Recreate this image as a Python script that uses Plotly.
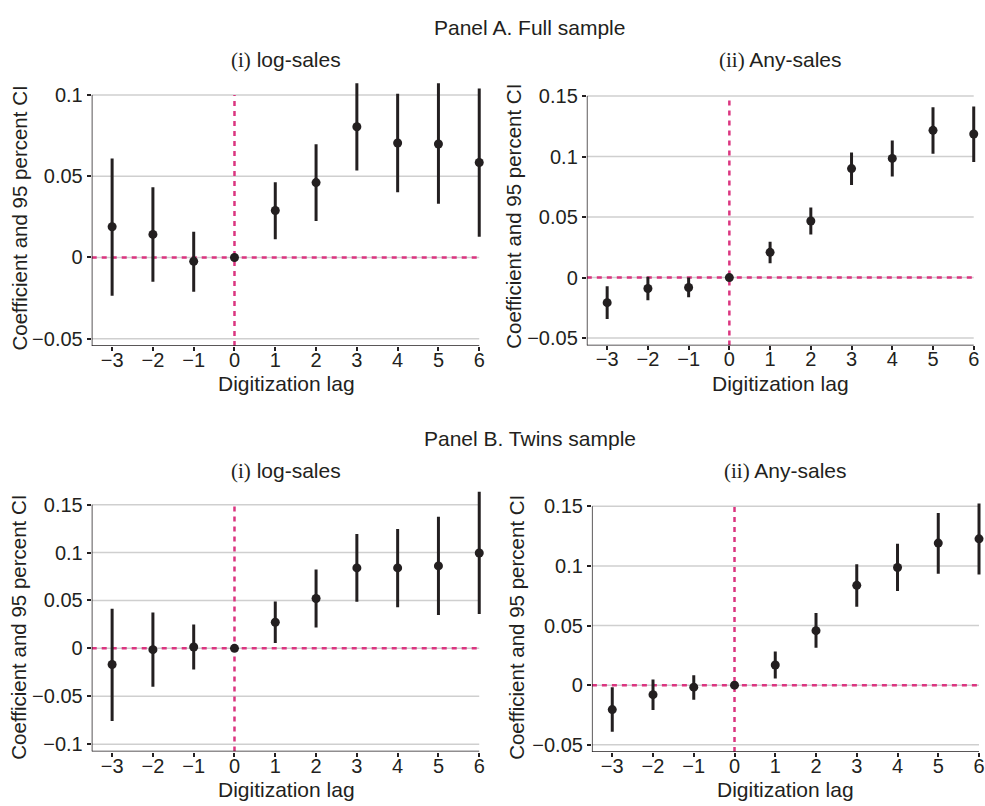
import plotly.graph_objects as go

W, H = 985, 806

lags = [-3, -2, -1, 0, 1, 2, 3, 4, 5, 6]
x_tick_text = ["\u22123", "\u22122", "\u22121", "0", "1", "2", "3", "4", "5", "6"]

# Panel A (i) log-sales
a1_coef = [0.0189, 0.0142, -0.0024, 0.0, 0.0289, 0.0461, 0.0805, 0.0705, 0.0699, 0.0585]
a1_lo = [-0.0236, -0.0150, -0.0211, 0.0, 0.0112, 0.0224, 0.0535, 0.0402, 0.0331, 0.0128]
a1_hi = [0.0610, 0.0433, 0.0159, 0.0, 0.0463, 0.0697, 0.1073, 0.1008, 0.1073, 0.1040]
# Panel A (ii) Any-sales
a2_coef = [-0.0207, -0.0090, -0.0082, 0.0, 0.0209, 0.0468, 0.0901, 0.0985, 0.1217, 0.1187]
a2_lo = [-0.0343, -0.0188, -0.0163, 0.0, 0.0119, 0.0356, 0.0765, 0.0836, 0.1024, 0.0956]
a2_hi = [-0.0071, 0.0008, 0.0000, 0.0, 0.0297, 0.0580, 0.1034, 0.1132, 0.1408, 0.1413]
# Panel B (i) log-sales
b1_coef = [-0.0169, -0.0014, 0.0014, 0.0, 0.0272, 0.0520, 0.0840, 0.0840, 0.0861, 0.0995]
b1_lo = [-0.0758, -0.0400, -0.0220, 0.0, 0.0055, 0.0217, 0.0486, 0.0430, 0.0348, 0.0358]
b1_hi = [0.0413, 0.0375, 0.0248, 0.0, 0.0489, 0.0823, 0.1195, 0.1247, 0.1374, 0.1636]
# Panel B (ii) Any-sales
b2_coef = [-0.0205, -0.0080, -0.0017, 0.0, 0.0169, 0.0457, 0.0837, 0.0986, 0.1191, 0.1227]
b2_lo = [-0.0390, -0.0208, -0.0122, 0.0, 0.0055, 0.0313, 0.0657, 0.0790, 0.0935, 0.0928]
b2_hi = [-0.0017, 0.0047, 0.0083, 0.0, 0.0283, 0.0604, 0.1014, 0.1186, 0.1443, 0.1524]

a1_ticks = [-0.05, 0, 0.05, 0.1]
a1_tick_text = ["\u22120.05", "0", "0.05", "0.1"]
a2_ticks = [-0.05, 0, 0.05, 0.1, 0.15]
a2_tick_text = ["\u22120.05", "0", "0.05", "0.1", "0.15"]
b1_ticks = [-0.1, -0.05, 0, 0.05, 0.1, 0.15]
b1_tick_text = ["\u22120.1", "\u22120.05", "0", "0.05", "0.1", "0.15"]
b2_ticks = [-0.05, 0, 0.05, 0.1, 0.15]
b2_tick_text = ["\u22120.05", "0", "0.05", "0.1", "0.15"]

panel_titles = ["Panel A. Full sample", "Panel B. Twins sample"]
sub_titles = [("(i)", "log-sales"), ("(ii)", "Any-sales"), ("(i)", "log-sales"), ("(ii)", "Any-sales")]
y_title = "Coefficient and 95 percent CI"
x_title = "Digitization lag"

INK = "#231f20"
PINK = "#db3580"
GRID = "#cfcfcf"
FONT = "Liberation Sans, Arial, sans-serif"
FS_TICK = 20
FS_TITLE = 21
FS_YTITLE = 20.5

X_MIN, X_MAX = -3.5, 6

def px_x(p):
    return p / W

def px_y(p):
    return 1 - p / H

# panel geometry: pixel of x=X_MIN / x=X_MAX, y-axis bottom value/pixel, top tick value/pixel,
# extra headroom above the top tick (for CIs that overshoot)
panels = [
    dict(coef=a1_coef, lo=a1_lo, hi=a1_hi, ticks=a1_ticks, tt=a1_tick_text,
         xpx=(92, 480.7), ybot=(-0.0545, 345.4), ytop=(0.1, 92), yext=0.112),
    dict(coef=a2_coef, lo=a2_lo, hi=a2_hi, ticks=a2_ticks, tt=a2_tick_text,
         xpx=(588.6, 976.7), ybot=(-0.056, 344.8), ytop=(0.15, 93), yext=0.156),
    dict(coef=b1_coef, lo=b1_lo, hi=b1_hi, ticks=b1_ticks, tt=b1_tick_text,
         xpx=(92, 480.7), ybot=(-0.1077, 755), ytop=(0.15, 505.7), yext=0.168),
    dict(coef=b2_coef, lo=b2_lo, hi=b2_hi, ticks=b2_ticks, tt=b2_tick_text,
         xpx=(593.7, 982), ybot=(-0.056, 755.4), ytop=(0.15, 507.3), yext=0.156),
]

fig = go.Figure()
layout = dict(
    width=W, height=H, margin=dict(l=0, r=0, t=0, b=0),
    paper_bgcolor="white", plot_bgcolor="rgba(0,0,0,0)", showlegend=False,
    font=dict(family=FONT, size=FS_TICK, color=INK),
)
shapes = []
annotations = []

for i, p in enumerate(panels):
    n = "" if i == 0 else str(i + 1)
    xa, ya = "x" + n, "y" + n
    up = [h - c for h, c in zip(p["hi"], p["coef"])]
    dn = [c - l for c, l in zip(p["coef"], p["lo"])]
    fig.add_trace(go.Scatter(
        x=lags, y=p["coef"], mode="markers", xaxis=xa, yaxis=ya,
        marker=dict(size=9, color=INK),
        error_y=dict(type="data", array=up, arrayminus=dn, width=0, thickness=3, color=INK),
        cliponaxis=False, hoverinfo="skip",
    ))
    # x geometry (extend a little right so the last CI is not clipped)
    xl, xr = p["xpx"]
    sx = (xr - xl) / (X_MAX - X_MIN)
    right_px = min(W - 0.5, xr + 0.15 * sx)
    x_ext = X_MAX + (right_px - xr) / sx
    # y geometry
    (yb, yb_px), (yt, yt_px) = p["ybot"], p["ytop"]
    sy = (yb_px - yt_px) / (yt - yb)
    top_px = yt_px - (p["yext"] - yt) * sy

    common_ax = dict(showline=False, ticks="outside", ticklen=4, tickwidth=1.5,
                     tickcolor=INK, zeroline=False, showgrid=False, fixedrange=True,
                     ticklabeloverflow="allow",
                     tickfont=dict(family=FONT, size=FS_TICK, color=INK))
    layout["xaxis" + n] = dict(
        domain=[px_x(xl), px_x(right_px)], range=[X_MIN, x_ext],
        anchor=ya, tickvals=lags, ticktext=x_tick_text, ticklabelstandoff=-8, **common_ax)
    layout["yaxis" + n] = dict(
        domain=[px_y(yb_px), px_y(top_px)], range=[yb, p["yext"]],
        anchor=xa, tickvals=p["ticks"], ticktext=p["tt"], **common_ax)

    # gridlines at tick values
    for tv in p["ticks"]:
        shapes.append(dict(type="line", xref=xa, yref=ya, x0=X_MIN, x1=X_MAX, y0=tv, y1=tv,
                           line=dict(color=GRID, width=1.5), layer="below"))
    # dashed reference lines
    shapes.append(dict(type="line", xref=xa, yref=ya, x0=X_MIN, x1=X_MAX, y0=0, y1=0,
                       line=dict(color=PINK, width=2.5, dash="5px,5px"), layer="below"))
    shapes.append(dict(type="line", xref=xa, yref=ya, x0=0, x1=0, y0=yb, y1=yt,
                       line=dict(color=PINK, width=2.5, dash="5px,5px"), layer="below"))
    # axis lines
    shapes.append(dict(type="line", xref=xa, yref=ya, x0=X_MIN, x1=X_MIN, y0=yb, y1=yt,
                       line=dict(color=INK, width=1.5), layer="below"))
    shapes.append(dict(type="line", xref=xa, yref=ya, x0=X_MIN, x1=X_MAX, y0=yb, y1=yb,
                       line=dict(color=INK, width=1.5), layer="below"))

# text placements (pixel centres)
panel_title_pos = [(531, 24), (532, 439)]
for t, (cx, cy) in zip(panel_titles, panel_title_pos):
    annotations.append(dict(text=t, x=px_x(cx), y=px_y(cy), xref="paper", yref="paper",
                            showarrow=False, xanchor="center", yanchor="middle",
                            font=dict(family=FONT, size=FS_TITLE, color=INK)))

sub_pos = [(287, 57), (783, 57), (287, 472), (788, 472)]
for (a, b), (cx, cy) in zip(sub_titles, sub_pos):
    txt = '<span style="font-family:Liberation Serif, Times New Roman, serif">' + a + '</span> ' + b
    annotations.append(dict(text=txt, x=px_x(cx), y=px_y(cy), xref="paper", yref="paper",
                            showarrow=False, xanchor="center", yanchor="middle",
                            font=dict(family=FONT, size=FS_TITLE, color=INK)))

ytitle_pos = [(20, 215.7), (515, 214.5), (19, 629), (518, 629.7)]
for cx, cy in ytitle_pos:
    annotations.append(dict(text=y_title, x=px_x(cx), y=px_y(cy), xref="paper", yref="paper",
                            showarrow=False, xanchor="center", yanchor="middle", textangle=-90,
                            font=dict(family=FONT, size=FS_YTITLE, color=INK)))

xtitle_pos = [(287.5, 383), (783, 383), (287, 793), (788, 793)]
for cx, cy in xtitle_pos:
    annotations.append(dict(text=x_title, x=px_x(cx), y=px_y(cy), xref="paper", yref="paper",
                            showarrow=False, xanchor="center", yanchor="middle",
                            font=dict(family=FONT, size=FS_TITLE, color=INK)))

layout["shapes"] = shapes
layout["annotations"] = annotations
fig.update_layout(**layout)
fig.write_html(
    "out.html",
    config={"displayModeBar": False, "staticPlot": False},
    post_script="document.body.style.margin='0';document.documentElement.style.overflow='hidden';",
)
